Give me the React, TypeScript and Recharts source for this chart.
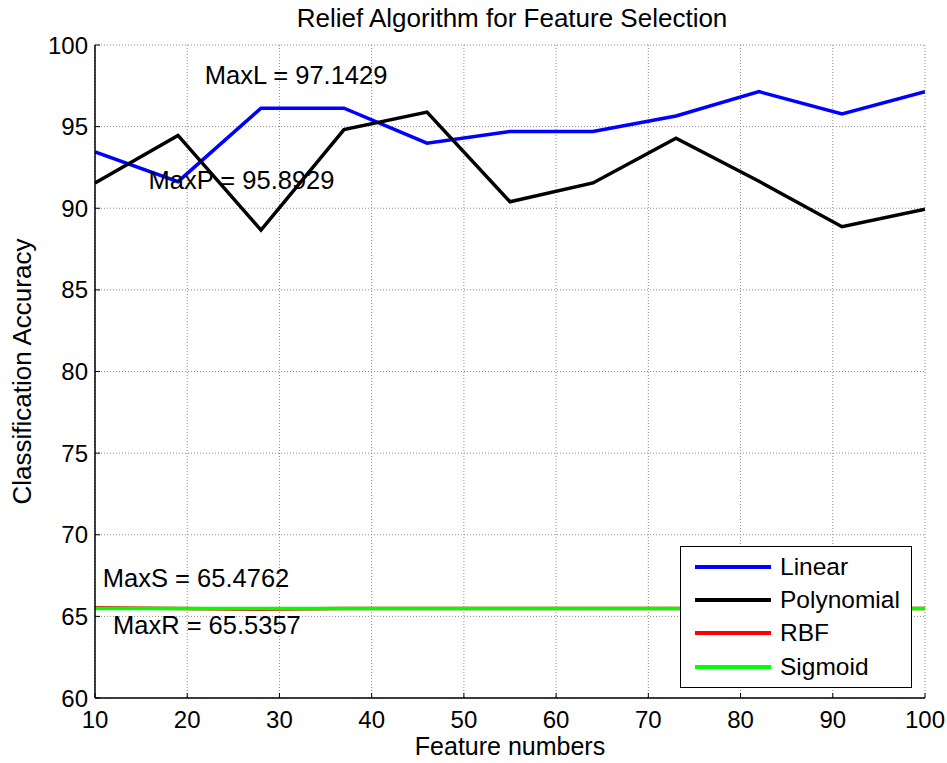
import React from 'react';
import { LineChart, Line, XAxis, YAxis, CartesianGrid, Legend, ReferenceDot, Label } from 'recharts';

const FONT = '"Liberation Sans", Arial, Helvetica, sans-serif';

const featureNumbers = [10, 19, 28, 37, 46, 55, 64, 73, 82, 91, 100];
const linearAcc = [93.45, 91.63, 96.13, 96.13, 93.99, 94.7, 94.7, 95.65, 97.1429, 95.77, 97.1429];
const polynomialAcc = [91.55, 94.46, 88.66, 94.82, 95.8929, 90.4, 91.55, 94.29, 91.65, 88.87, 89.94];
const rbfAcc = [65.5357, 65.4762, 65.44, 65.4762, 65.4762, 65.4762, 65.4762, 65.4762, 65.4762, 65.4762, 65.4762];
const sigmoidAcc = [65.4762, 65.4762, 65.4762, 65.4762, 65.4762, 65.4762, 65.4762, 65.4762, 65.4762, 65.4762, 65.4762];

const xTicks = [10, 20, 30, 40, 50, 60, 70, 80, 90, 100];
const yTicks = [60, 65, 70, 75, 80, 85, 90, 95, 100];

const seriesNames = ['Linear', 'Polynomial', 'RBF', 'Sigmoid'];
const seriesColors = ['#0000ff', '#000000', '#ff0000', '#00ff00'];

const annotationLabels = ['MaxL = 97.1429', 'MaxP = 95.8929', 'MaxS = 65.4762', 'MaxR = 65.5357'];
const annotationX = [21.9, 15.8, 10.85, 11.95];
const annotationY = [98.16, 91.73, 67.36, 64.48];

const data = featureNumbers.map((x, i) => ({
  x,
  linear: linearAcc[i],
  polynomial: polynomialAcc[i],
  rbf: rbfAcc[i],
  sigmoid: sigmoidAcc[i],
}));
const seriesKeys = ['linear', 'polynomial', 'rbf', 'sigmoid'];

const renderLegend = (props: any) => {
  const payload = props.payload || [];
  return (
    <div
      style={{
        border: '1.5px solid #000',
        background: '#fff',
        width: 232,
        height: 142,
        boxSizing: 'border-box',
        padding: '3px 0 0 14px',
        fontFamily: FONT,
        fontSize: 24.5,
        color: '#000',
      }}
    >
      {payload.map((e: any) => (
        <div key={e.value} style={{ display: 'flex', alignItems: 'center', height: 33.3 }}>
          <span style={{ display: 'inline-block', width: 76, height: 4, background: e.color, marginRight: 9 }} />
          <span>{e.value}</span>
        </div>
      ))}
    </div>
  );
};

const tickStyle = { fill: '#000', fontSize: 24, fontFamily: FONT };

export default function App() {
  return (
    <div style={{ position: 'absolute', left: 0, top: 0, width: 947, height: 763, background: '#fff' }}>
      <div
        style={{
          position: 'absolute',
          left: 262,
          top: 5,
          width: 500,
          textAlign: 'center',
          fontFamily: FONT,
          fontSize: 26,
          lineHeight: '26px',
          color: '#000',
          whiteSpace: 'nowrap',
        }}
      >
        Relief Algorithm for Feature Selection
      </div>
      <LineChart
        width={947}
        height={763}
        data={data}
        margin={{ top: 45, right: 22, bottom: 0, left: 0 }}
        style={{ fontFamily: FONT }}
      >
        <CartesianGrid stroke="#8c8c8c" strokeDasharray="1 2" />
        <XAxis
          dataKey="x"
          type="number"
          domain={[10, 100]}
          ticks={xTicks}
          allowDataOverflow
          height={65}
          tickSize={-5}
          tickMargin={18}
          axisLine={{ stroke: '#000', strokeWidth: 1.5 }}
          tickLine={{ stroke: '#000' }}
          tick={tickStyle}
        >
          <Label value="Feature numbers" position="insideBottom" offset={8} style={{ fill: '#000', fontSize: 25, fontFamily: FONT }} />
        </XAxis>
        <XAxis
          xAxisId="top"
          orientation="top"
          dataKey="x"
          type="number"
          domain={[10, 100]}
          ticks={xTicks}
          allowDataOverflow
          height={0}
          tickSize={-5}
          tickFormatter={() => ''}
          axisLine={{ stroke: '#000', strokeWidth: 1.5 }}
          tickLine={{ stroke: '#000' }}
        />
        <YAxis
          type="number"
          domain={[60, 100]}
          ticks={yTicks}
          allowDataOverflow
          width={95}
          tickSize={-5}
          tickMargin={12}
          axisLine={{ stroke: '#000', strokeWidth: 1.5 }}
          tickLine={{ stroke: '#000' }}
          tick={tickStyle}
        >
          <Label
            value="Classification Accuracy"
            angle={-90}
            position="insideLeft"
            offset={22}
            style={{ fill: '#000', fontSize: 26, fontFamily: FONT, textAnchor: 'middle' }}
          />
        </YAxis>
        <YAxis
          yAxisId="right"
          orientation="right"
          type="number"
          domain={[60, 100]}
          ticks={yTicks}
          allowDataOverflow
          width={0}
          tickSize={-5}
          tickFormatter={() => ''}
          axisLine={{ stroke: '#000', strokeWidth: 1.5 }}
          tickLine={{ stroke: '#000' }}
        />
        {seriesKeys.map((k, i) => (
          <Line
            key={k}
            type="linear"
            dataKey={k}
            name={seriesNames[i]}
            stroke={seriesColors[i]}
            strokeWidth={3.5}
            dot={false}
            activeDot={false}
            isAnimationActive={false}
          />
        ))}
        {annotationLabels.map((t, i) => (
          <ReferenceDot
            key={t}
            x={annotationX[i]}
            y={annotationY[i]}
            r={0}
            shape={(p: any) => (
              <text x={p.cx} y={p.cy} dy="0.36em" textAnchor="start" fill="#000" fontSize={25.5} fontFamily={FONT}>
                {t}
              </text>
            )}
          />
        ))}
        <Legend
          layout="vertical"
          align="center"
          verticalAlign="middle"
          content={renderLegend}
          wrapperStyle={{ position: 'absolute', left: 680, top: 546, width: 232, height: 142 }}
        />
      </LineChart>
    </div>
  );
}
